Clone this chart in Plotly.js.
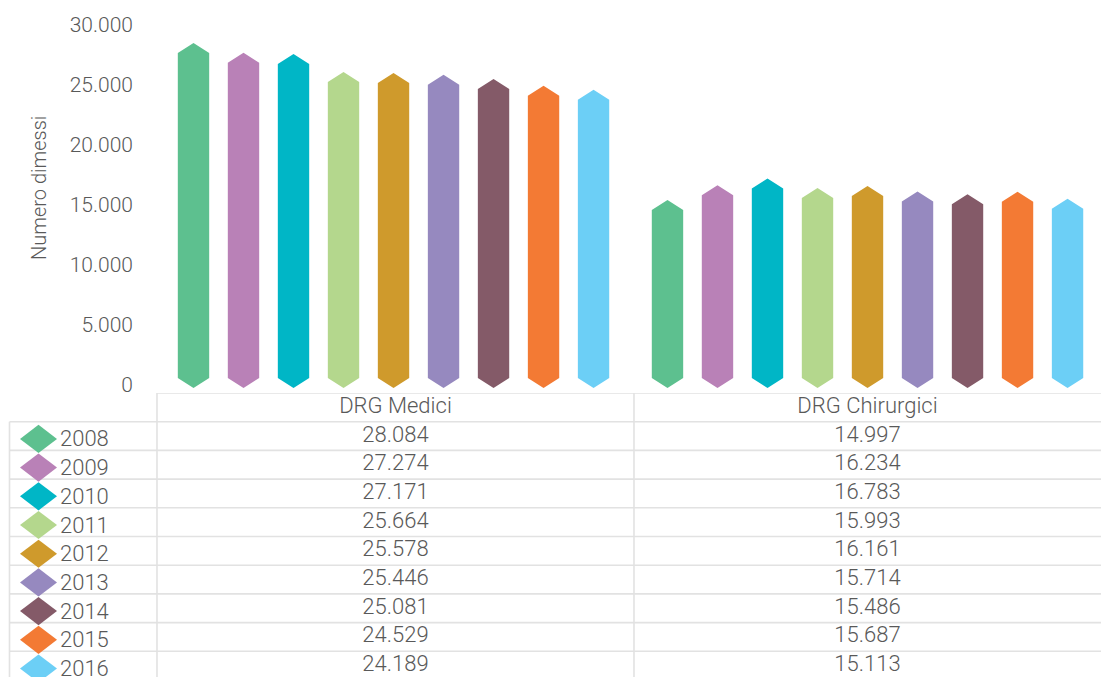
<!DOCTYPE html>
<html>
<head>
<meta charset="utf-8">
<script src="https://cdn.plot.ly/plotly-3.0.1.min.js"></script>
<style>html,body{margin:0;padding:0;background:#fff}#chart{width:1101px;height:677px}</style>
</head>
<body>
<div id="chart"></div>
<script>
// ---- data ----
const categories = ['DRG Medici', 'DRG Chirurgici'];
const years = ['2008', '2009', '2010', '2011', '2012', '2013', '2014', '2015', '2016'];
const medici = [28084, 27274, 27171, 25664, 25578, 25446, 25081, 24529, 24189];
const chirurgici = [14997, 16234, 16783, 15993, 16161, 15714, 15486, 15687, 15113];
const yTicks = [0, 5000, 10000, 15000, 20000, 25000, 30000];
const colors = ['#5DC08F', '#B981B7', '#00B6C6', '#B4D78D', '#CF9A2C', '#9689BF', '#845A68', '#F37A34', '#6CCFF6'];

// ---- style / layout constants ----
const FONT = "Roboto, 'DejaVu Sans Condensed', sans-serif";
const FW = 300;
const TXT = '#595959';
const GRID = '#e2e2e2';
const step = 0.1055;      // distance between bars (category units)
const halfW = 0.0331;     // half bar width (category units)
const cap = 417;          // half height of the pointed caps (value units)
const baseC = 170;        // centre of the bottom cap (value units)

const series = [medici, chirurgici];
const traces = [];

// pointed bars
years.forEach((yr, k) => {
  const xs = [], ys = [];
  series.forEach((vals, g) => {
    const c = g + (k - (years.length - 1) / 2) * step;
    const v = vals[k];
    xs.push(c - halfW, c - halfW, c, c + halfW, c + halfW, c, c - halfW, null);
    ys.push(baseC + cap, v - cap, v + cap, v - cap, baseC + cap, baseC - cap, baseC + cap, null);
  });
  traces.push({
    type: 'scatter', mode: 'lines', x: xs, y: ys, fill: 'toself',
    fillcolor: colors[k], line: {width: 0, color: colors[k]},
    name: yr, hoverinfo: 'skip', showlegend: false, xaxis: 'x', yaxis: 'y'
  });
});

// ---- table (x2: pixel-like columns, y2: row index; 0 = header) ----
const colCenters = [395.5, 867.5];
const fmt = n => String(n).replace(/\B(?=(\d{3})+(?!\d))/g, '.');
const rowIdx = years.map((_, i) => i + 1);
const tf = {family: FONT, size: 22, color: TXT, weight: FW};

traces.push({
  type: 'scatter', mode: 'text', x: colCenters, y: [0, 0], text: categories,
  textposition: 'middle center', textfont: tf,
  hoverinfo: 'skip', showlegend: false, xaxis: 'x2', yaxis: 'y2', cliponaxis: false
});
series.forEach((vals, g) => {
  traces.push({
    type: 'scatter', mode: 'text', x: vals.map(() => colCenters[g]), y: rowIdx,
    text: vals.map(fmt), textposition: 'middle center', textfont: tf,
    hoverinfo: 'skip', showlegend: false, xaxis: 'x2', yaxis: 'y2', cliponaxis: false
  });
});

// legend keys (diamonds) and year labels
const dCx = 38.5, dHw = 18.5, dHh = 0.49, dOff = 0.1, tOff = 0.17;
years.forEach((yr, i) => {
  const r = i + 1 + dOff;
  traces.push({
    type: 'scatter', mode: 'lines', fill: 'toself',
    x: [dCx - dHw, dCx, dCx + dHw, dCx, dCx - dHw],
    y: [r, r - dHh, r, r + dHh, r],
    fillcolor: colors[i], line: {width: 0, color: colors[i]},
    hoverinfo: 'skip', showlegend: false, xaxis: 'x2', yaxis: 'y2'
  });
});
traces.push({
  type: 'scatter', mode: 'text', x: years.map(() => 60), y: rowIdx.map(r => r + tOff),
  text: years, textposition: 'middle right', textfont: tf,
  hoverinfo: 'skip', showlegend: false, xaxis: 'x2', yaxis: 'y2', cliponaxis: false
});

// table lines
const shapes = [];
const L = (x0, y0, x1, y1) => shapes.push({type: 'line', xref: 'x2', yref: 'y2', x0, y0, x1, y1,
  line: {color: GRID, width: 1.6}, layer: 'below'});
L(157, -0.5, 1101, -0.5);
for (let i = 0; i < years.length; i++) L(9.5, i + 0.5, 1101, i + 0.5);
L(157, -0.5, 157, 10);
L(634, -0.5, 634, 10);
L(9.5, 0.5, 9.5, 10);

const FIG_H = 677, MARGIN_T = 13;
const ph = FIG_H - MARGIN_T;
const layout = {
  width: 1101, height: 677,
  margin: {l: 0, r: 0, t: MARGIN_T, b: 0, pad: 0},
  paper_bgcolor: '#fff', plot_bgcolor: 'rgba(0,0,0,0)',
  separators: ',.',
  font: {family: FONT, color: TXT, size: 22, weight: FW},
  showlegend: false,
  xaxis: {domain: [157 / 1101, 1], range: [-0.499, 1.4926], visible: false, fixedrange: true},
  yaxis: {
    domain: [(FIG_H - 391) / ph, 1], range: [-500, 31000],
    tickvals: yTicks, tickformat: ',d', showgrid: false, zeroline: false, showline: false,
    ticks: '', ticklabelstandoff: 23, tickfont: {family: FONT, size: 21, color: TXT, weight: FW}, fixedrange: true
  },
  xaxis2: {domain: [0, 1], range: [0, 1101], visible: false, anchor: 'y2', fixedrange: true},
  yaxis2: {domain: [0, (FIG_H - 393) / ph], range: [-0.5 + (FIG_H - 393) / 28.7, -0.5], visible: false, anchor: 'x2', fixedrange: true},
  shapes: shapes,
  annotations: [{
    text: 'Numero dimessi', textangle: -90, xref: 'paper', yref: 'paper',
    x: 39 / 1101, y: (FIG_H - 188) / ph, xanchor: 'center', yanchor: 'middle', showarrow: false,
    font: {family: FONT, size: 20, color: TXT, weight: FW}
  }]
};

Plotly.newPlot('chart', traces, layout, {displayModeBar: false, staticPlot: true});
</script>
</body>
</html>
